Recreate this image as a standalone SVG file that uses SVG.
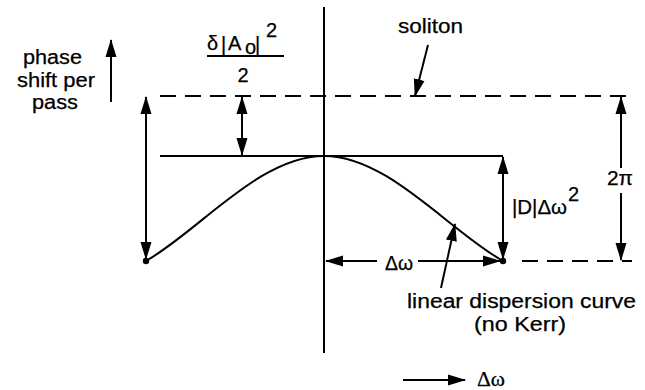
<svg xmlns="http://www.w3.org/2000/svg" width="645" height="390" viewBox="0 0 645 390">
<style>
.ln{stroke:#000;stroke-width:2;fill:none}
.ds{stroke:#000;stroke-width:2;fill:none;stroke-dasharray:16 9}
.t{font-family:"Liberation Sans",Arial,sans-serif;font-size:20px;fill:#000;stroke:#000;stroke-width:0.25}
.s{font-family:"Liberation Serif","Times New Roman",serif;font-size:20px;fill:#000;stroke:#000;stroke-width:0.25}
</style>
<defs>
<marker id="ah" markerUnits="userSpaceOnUse" markerWidth="18" markerHeight="12" refX="17" refY="5.5" orient="auto-start-reverse" viewBox="0 0 18 11">
<path d="M0,0 L18,5.5 L0,11 z" fill="#000"/>
</marker>
</defs>
<rect width="645" height="390" fill="#fff"/>
<g id="connectors">
<line class="ln" x1="324" y1="7" x2="324" y2="353"/>
<line class="ds" x1="160" y1="96" x2="632" y2="96"/>
<line class="ds" x1="522" y1="261" x2="632" y2="261"/>
<line class="ln" x1="160" y1="156" x2="503" y2="156"/>
<path class="ln" d="M146,261 C200,230 260,156 324,156 C388,156 448,230 503,261"/>
<line class="ln" x1="111" y1="102" x2="111" y2="40" marker-end="url(#ah)"/>
<line class="ln" x1="146" y1="97" x2="146" y2="259" marker-start="url(#ah)" marker-end="url(#ah)"/>
<line class="ln" x1="242" y1="97" x2="242" y2="155" marker-start="url(#ah)" marker-end="url(#ah)"/>
<line class="ln" x1="503" y1="157" x2="503" y2="259" marker-start="url(#ah)" marker-end="url(#ah)"/>
<line class="ln" x1="621" y1="168" x2="621" y2="97" marker-end="url(#ah)"/>
<line class="ln" x1="621" y1="193" x2="621" y2="260" marker-end="url(#ah)"/>
<line class="ln" x1="377" y1="261" x2="326" y2="261" marker-end="url(#ah)"/>
<line class="ln" x1="418" y1="261" x2="500" y2="261" marker-end="url(#ah)"/>
<line class="ln" x1="428" y1="45" x2="415" y2="96" marker-end="url(#ah)"/>
<line class="ln" x1="441" y1="288" x2="455" y2="224" marker-end="url(#ah)"/>
<line class="ln" x1="403" y1="380" x2="465" y2="380" stroke-width="1.5" marker-end="url(#ah)"/>
<line class="ln" x1="207" y1="56" x2="284" y2="56" stroke-width="1.5"/>
</g>
<g id="points">
<circle cx="146" cy="261" r="3.2" fill="#000"/>
<circle cx="503" cy="261" r="3.2" fill="#000"/>
</g>
<g id="labels">
<text class="t" x="23" y="64" textLength="59" lengthAdjust="spacingAndGlyphs">phase</text>
<text class="t" x="17" y="87" textLength="78" lengthAdjust="spacingAndGlyphs">shift per</text>
<text class="t" x="32" y="109" textLength="46" lengthAdjust="spacingAndGlyphs">pass</text>
<text class="t" x="207" y="50" font-size="22">δ</text>
<text class="t" x="221" y="51" font-size="23">|</text>
<text class="t" x="228" y="50" font-size="22">A</text>
<text class="t" x="245" y="54" font-size="15">o</text>
<text class="t" x="255" y="51" font-size="23">|</text>
<text class="t" x="266" y="37" font-size="17">2</text>
<text class="t" x="243" y="82" font-size="22" text-anchor="middle">2</text>
<text class="t" x="398" y="33" textLength="65" lengthAdjust="spacingAndGlyphs">soliton</text>
<text class="t" x="607" y="185" textLength="26" lengthAdjust="spacingAndGlyphs">2π</text>
<text class="t" x="512" y="214" textLength="55" lengthAdjust="spacingAndGlyphs">|D|Δω</text>
<text class="t" x="568" y="201" font-size="16">2</text>
<text class="t" x="385" y="270" textLength="28" lengthAdjust="spacingAndGlyphs">Δω</text>
<text class="t" x="407" y="308" textLength="229" lengthAdjust="spacingAndGlyphs">linear dispersion curve</text>
<text class="t" x="474" y="331" textLength="92" lengthAdjust="spacingAndGlyphs">(no Kerr)</text>
<text class="s" x="477" y="386" textLength="28" lengthAdjust="spacingAndGlyphs">Δω</text>
</g>
</svg>
